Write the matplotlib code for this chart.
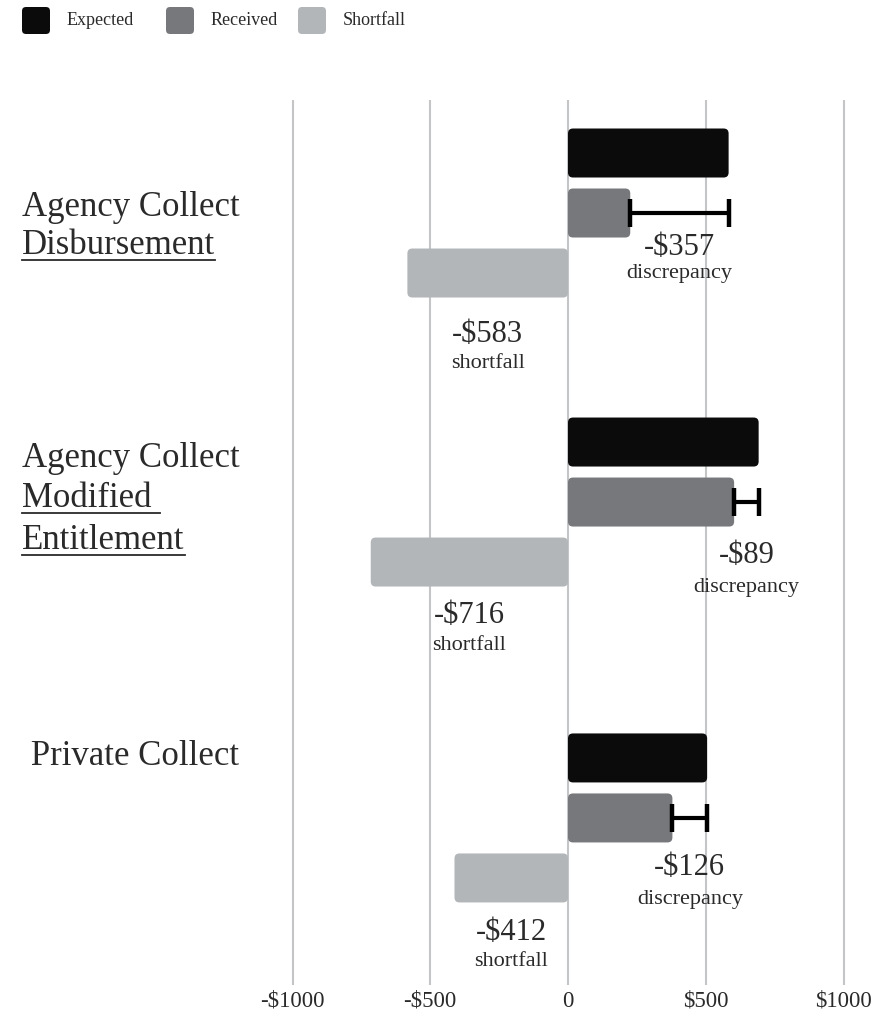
import matplotlib.pyplot as plt
import numpy as np
from matplotlib.patches import FancyBboxPatch
from matplotlib.lines import Line2D
from matplotlib.transforms import blended_transform_factory

plt.rcParams['font.family'] = ['Liberation Serif', 'DejaVu Serif']

# monthly child support amounts by collection type
expected = [583, 692, 505]
received = [226, 603, 379]
discrepancy = [357, 89, 126]
shortfall = [-583, -716, -412]

series_names = ['Expected', 'Received', 'Shortfall']
colors = ['#0b0b0b', '#77787b', '#b3b6b9']
text_color = '#2a2a2a'

# category label lines: (text, underlined, offset in px from the group centre)
cat_lines = [
    [('Agency Collect', False, -6), ('Disbursement', True, 32)],
    [('Agency Collect', False, -44), ('Modified ', True, -4), ('Entitlement', True, 38)],
    [(' Private Collect', False, -61)],
]
cat_x_px = [22, 22, 22]

xticks = [-1000, -500, 0, 500, 1000]
xticklabels = ['-$1000', '-$500', '0', '$500', '$1000']

W, H = 886, 1025
PX_PER_UNIT = 289.0          # vertical pixels per group step
group_pos = np.array([0.0, 1.0, 2.093])
bar_step = 60 / PX_PER_UNIT
bar_h = 49 / PX_PER_UNIT

# label offsets (px below the bar centre)
disc_num_off = [34, 53, 50]
disc_word_off = [60, 85, 82]
short_num_off = [61, 53, 55]
short_word_off = [90, 83, 84]

fig = plt.figure(figsize=(W / 100, H / 100), dpi=100)
xscale = 0.2755  # px per dollar
x_lo, x_hi = -1010, 1010
left_px = 568 + x_lo * xscale
ax = fig.add_axes([left_px / W, 1 - 985 / H, (x_hi - x_lo) * xscale / W, 885 / H])
ax.set_xlim(x_lo, x_hi)
ax.set_ylim(2.671, -0.391)

for s in ax.spines.values():
    s.set_visible(False)
ax.set_yticks([])
ax.set_xticks(xticks)
ax.set_xticklabels(xticklabels, fontsize=16.5, color=text_color)
ax.tick_params(axis='x', length=0, pad=4)
for xv in xticks:
    ax.axvline(xv, color='#c4c5c7', lw=1.5, zorder=0)

aspect = (1 / PX_PER_UNIT) / (1 / xscale)
radius = 5 / xscale


def rounded_barh(ys, values, color):
    for y, v in zip(ys, values):
        x0 = min(0, v)
        p = FancyBboxPatch((x0, y - bar_h / 2), abs(v), bar_h,
                           boxstyle=f'round,pad=0,rounding_size={radius}',
                           mutation_aspect=aspect, fc=color, ec='none', zorder=2)
        ax.add_patch(p)


rounded_barh(group_pos - bar_step, expected, colors[0])
rounded_barh(group_pos, received, colors[1])
rounded_barh(group_pos + bar_step, shortfall, colors[2])

# discrepancy between expected and received
ax.errorbar(expected, group_pos, xerr=[discrepancy, [0] * len(expected)],
            fmt='none', ecolor='black', elinewidth=3, capsize=10, capthick=3.2,
            zorder=3)

for i in range(len(group_pos)):
    xm = expected[i] - discrepancy[i] / 2
    y0 = group_pos[i]
    ax.text(xm, y0 + disc_num_off[i] / PX_PER_UNIT, f'-${discrepancy[i]}',
            ha='center', va='center', fontsize=22, color=text_color)
    ax.text(xm, y0 + disc_word_off[i] / PX_PER_UNIT, 'discrepancy',
            ha='center', va='center', fontsize=16, color=text_color)
    ys = y0 + bar_step
    ax.text(shortfall[i] / 2, ys + short_num_off[i] / PX_PER_UNIT, f'-${-shortfall[i]}',
            ha='center', va='center', fontsize=22, color=text_color)
    ax.text(shortfall[i] / 2, ys + short_word_off[i] / PX_PER_UNIT, 'shortfall',
            ha='center', va='center', fontsize=16, color=text_color)

# category labels on the left, some lines underlined
trans = blended_transform_factory(fig.transFigure, ax.transData)
fig.canvas.draw()
renderer = fig.canvas.get_renderer()
for i, lines in enumerate(cat_lines):
    for txt, underline, off in lines:
        t = ax.text(cat_x_px[i] / W, group_pos[i] + off / PX_PER_UNIT, txt,
                    transform=trans, ha='left', va='center', fontsize=25,
                    color=text_color, clip_on=False)
        if underline:
            bb = t.get_window_extent(renderer)
            yline = (bb.y0 + 2) / H
            fig.add_artist(Line2D([bb.x0 / W, bb.x1 / W], [yline, yline],
                                  color=text_color, lw=1.3))

# legend row along the top
leg_x = [22, 166, 298]
for name, c, lx in zip(series_names, colors, leg_x):
    fig.add_artist(FancyBboxPatch((lx / W, 1 - 34 / H), 28 / W, 27 / H,
                                  boxstyle=f'round,pad=0,rounding_size={4 / W}',
                                  mutation_aspect=W / H, fc=c, ec='none',
                                  transform=fig.transFigure))
    fig.text((lx + 45) / W, 1 - 20.5 / H, name, ha='left', va='center',
             fontsize=13, color=text_color)

fig.savefig('out.png', dpi=100)
